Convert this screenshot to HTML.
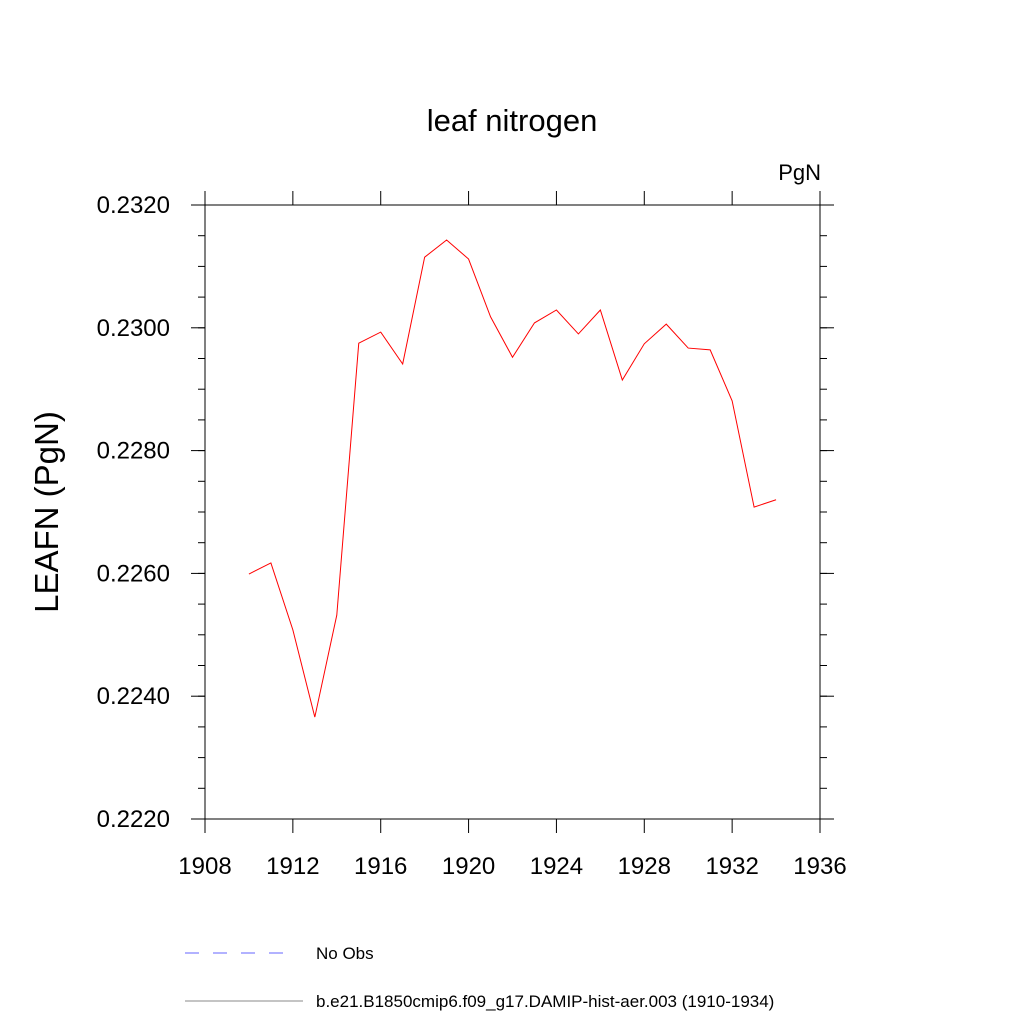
<!DOCTYPE html>
<html><head><meta charset="utf-8"><style>
body{margin:0;background:#fff}
svg text{font-family:"Liberation Sans",sans-serif;fill:#000}
</style></head><body>
<svg id="chart" width="1024" height="1024" xmlns="http://www.w3.org/2000/svg">
<rect width="1024" height="1024" fill="#fff"/>
<text x="512" y="131" font-size="31" text-anchor="middle">leaf nitrogen</text>
<text x="821" y="180" font-size="22" text-anchor="end">PgN</text>
<text transform="translate(58,512) rotate(-90)" font-size="33" text-anchor="middle">LEAFN  (PgN)</text>
<rect x="205" y="205" width="615" height="614" fill="none" stroke="#000" stroke-width="1"/>
<g id="axes"></g>
<polyline id="series" fill="none" stroke="#f00" stroke-width="1"/>
<line x1="185" y1="953" x2="290" y2="953" stroke="#66f" stroke-dasharray="14,14"/>
<text x="316" y="959" font-size="17">No Obs</text>
<line x1="185" y1="1001" x2="303" y2="1001" stroke="#888"/>
<text x="316" y="1007" font-size="17">b.e21.B1850cmip6.f09_g17.DAMIP-hist-aer.003 (1910-1934)</text>
</svg>
<script>
const years=[1910,1911,1912,1913,1914,1915,1916,1917,1918,1919,1920,1921,1922,1923,1924,1925,1926,1927,1928,1929,1930,1931,1932,1933,1934];
const values=[0.22599,0.22617,0.22508,0.22366,0.22532,0.22975,0.22993,0.22941,0.23115,0.23143,0.23112,0.23018,0.22952,0.23008,0.23029,0.22990,0.23029,0.22915,0.22974,0.23006,0.22967,0.22964,0.22881,0.22708,0.22720];
const xTicks=[1908,1912,1916,1920,1924,1928,1932,1936];
const yTicks=[0.2220,0.2240,0.2260,0.2280,0.2300,0.2320];
const X0=205,X1=820,Y0=819,Y1=205,xmin=1908,xmax=1936,ymin=0.222,ymax=0.232;
const xs=v=>X0+(v-xmin)/(xmax-xmin)*(X1-X0);
const ys=v=>Y0-(v-ymin)/(ymax-ymin)*(Y0-Y1);
const NS="http://www.w3.org/2000/svg";
const g=document.getElementById('axes');
function ln(x1,y1,x2,y2,name){const l=document.createElementNS(NS,'line');
l.setAttribute('x1',x1);l.setAttribute('y1',y1);l.setAttribute('x2',x2);l.setAttribute('y2',y2);l.setAttribute('stroke','#000');


g.appendChild(l);}
function tx(x,y,s,anchor,name){const t=document.createElementNS(NS,'text');
t.setAttribute('x',x);t.setAttribute('y',y);t.setAttribute('font-size','24');t.setAttribute('text-anchor',anchor);t.textContent=s;


g.appendChild(t);}
xTicks.forEach(v=>{const x=xs(v);ln(x,Y0,x,Y0+14,'x-tick');ln(x,Y1,x,Y1-14,'x-tick-top');tx(x,874,String(v),'middle','x-tick-label');});
yTicks.forEach(v=>{const y=ys(v);ln(X0,y,X0-14,y,'y-tick');ln(X1,y,X1+14,y,'y-tick-right');tx(170,y+8,v.toFixed(4),'end','y-tick-label');});
for(let v=ymin;v<=ymax+1e-9;v+=0.0005){const y=ys(v);ln(X0,y,X0-7,y,'y-minor-tick');ln(X1,y,X1+7,y,'y-minor-tick-right');}
document.getElementById('series').setAttribute('points',years.map((yr,i)=>xs(yr)+','+ys(values[i])).join(' '));
</script>
</body></html>
